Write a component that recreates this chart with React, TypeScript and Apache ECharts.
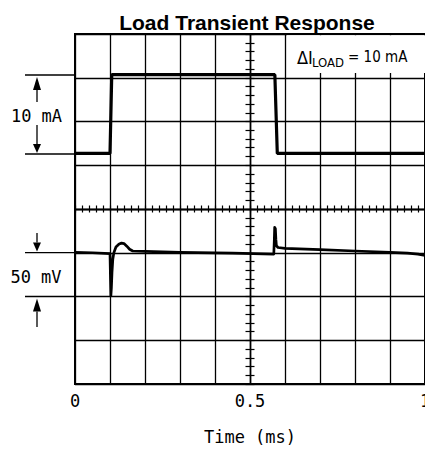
import React, { useEffect, useRef } from "react";
import * as echarts from "echarts";

const chartTitle = "Load Transient Response";
const xTickValues = [0, 0.5, 1];
const xTickLabels = ["0", "0.5", "1"];
const xAxisName = "Time (ms)";

// time in ms, level in screen divisions (0 = bottom, 8 = top)
const currentX = [0, 0.1, 0.105, 0.571, 0.578, 1];
const currentY = [5.27, 5.27, 7.07, 7.07, 5.27, 5.27];

const voltageX = [
  0, 0.05, 0.1, 0.1014, 0.1025, 0.104, 0.1057, 0.108, 0.111, 0.117, 0.126, 0.133, 0.14, 0.148,
  0.156, 0.165, 0.2, 0.3, 0.45, 0.568, 0.5695, 0.5705, 0.5725, 0.574, 0.5755, 0.58, 0.6, 0.7,
  0.8, 0.9, 0.95, 0.98, 1,
];
const voltageY = [
  3.01, 3.0, 2.98, 2.4, 2.02, 2.2, 2.55, 2.85, 3.0, 3.13, 3.2, 3.22, 3.21, 3.15, 3.08, 3.04,
  3.03, 3.01, 2.99, 2.97, 3.3, 3.58, 3.55, 3.3, 3.16, 3.12, 3.1, 3.07, 3.04, 3.01, 2.99, 2.97,
  2.94,
];

const currentLabel = "10 mA";
const voltageLabel = "50 mV";
const noteMain = "ΔI";
const noteSub = "LOAD";
const noteTail = "= 10 mA";

const MONO = "'DejaVu Sans Mono', monospace";
const NARROW = "'Liberation Sans Narrow', 'DejaVu Sans Condensed', 'Liberation Sans', sans-serif";

function arrow(x: number, tipY: number, dir: 1 | -1, headLen: number, stemEnd: number) {
  const baseY = tipY - dir * headLen;
  return [
    {
      type: "polygon",
      shape: { points: [[x, tipY], [x - 4, baseY], [x + 4, baseY]] },
      style: { fill: "#000" },
      z: 10,
    },
    {
      type: "line",
      shape: { x1: x, y1: baseY, x2: x, y2: stemEnd },
      style: { stroke: "#000", lineWidth: 1.3 },
      z: 10,
    },
  ];
}

export default function App() {
  const ref = useRef<HTMLDivElement>(null);
  useEffect(() => {
    if (!ref.current) return;
    const chart = echarts.init(ref.current, null, { renderer: "svg" });
    const gridLine = { show: true, lineStyle: { color: "#000", width: 1.3 } };
    const centerX = (pos: string) => ({
      type: "value",
      position: pos,
      offset: -175,
      min: 0,
      max: 1,
      interval: 0.1,
      axisLine: { show: true, onZero: false, lineStyle: { color: "#000", width: 1.3 } },
      axisTick: { show: true, length: 3.5, lineStyle: { color: "#000", width: 1.2 } },
      minorTick: { show: true, splitNumber: 5, length: 3.5, lineStyle: { color: "#000", width: 1.2 } },
      axisLabel: { show: false },
      splitLine: { show: false },
    });
    const centerY = (pos: string) => ({
      type: "value",
      position: pos,
      offset: -175,
      min: 0,
      max: 8,
      interval: 1,
      axisLine: { show: true, onZero: false, lineStyle: { color: "#000", width: 1.3 } },
      axisTick: { show: true, length: 4.5, lineStyle: { color: "#000", width: 1.2 } },
      minorTick: { show: true, splitNumber: 5, length: 4.5, lineStyle: { color: "#000", width: 1.2 } },
      axisLabel: { show: false },
      splitLine: { show: false },
    });
    chart.setOption({
      animation: false,
      backgroundColor: "#fff",
      grid: {
        left: 75,
        top: 34,
        width: 350,
        height: 350,
        show: true,
        borderColor: "#000",
        borderWidth: 2,
        backgroundColor: "transparent",
        containLabel: false,
        outerBoundsMode: "none",
      },
      xAxis: [
        {
          type: "value",
          position: "bottom",
          min: 0,
          max: 1,
          interval: 0.1,
          axisLine: { show: false, onZero: false },
          axisTick: { show: false },
          splitLine: gridLine,
          axisLabel: {
            showMaxLabel: true,
            showMinLabel: true,
            color: "#000",
            fontFamily: MONO,
            fontSize: 17,
            margin: 8,
            formatter: (v: number) => {
              const i = xTickValues.findIndex((t) => Math.abs(t - v) < 1e-6);
              return i >= 0 ? xTickLabels[i] : "";
            },
          },
          name: xAxisName,
          nameLocation: "middle",
          nameGap: 44,
          nameTextStyle: { color: "#000", fontFamily: MONO, fontSize: 17 },
        },
        centerX("bottom"),
        centerX("top"),
      ],
      yAxis: [
        {
          type: "value",
          min: 0,
          max: 8,
          interval: 1,
          position: "left",
          axisLine: { show: false, onZero: false },
          axisTick: { show: false },
          axisLabel: { show: false },
          splitLine: gridLine,
        },
        centerY("left"),
        centerY("right"),
      ],
      graphic: [
        {
          type: "rect",
          shape: { x: 287, y: 35.2, width: 138, height: 37.8 },
          style: { fill: "#fff" },
          z: 5,
        },
        {
          type: "text",
          x: 247,
          y: 22.7,
          style: {
            text: chartTitle,
            fill: "#000",
            font: "bold 21px 'Liberation Sans', Arial, sans-serif",
            align: "center",
            verticalAlign: "middle",
          },
          z: 10,
        },
        {
          type: "text",
          x: 297,
          y: 57,
          style: { text: noteMain, fill: "#000", font: `18px ${NARROW}`, align: "left", verticalAlign: "middle" },
          z: 10,
        },
        {
          type: "text",
          x: 312,
          y: 62,
          style: { text: noteSub, fill: "#000", font: `13px ${NARROW}`, align: "left", verticalAlign: "middle" },
          z: 10,
        },
        {
          type: "text",
          x: 348,
          y: 57,
          style: { text: noteTail, fill: "#000", font: `15px ${NARROW}`, align: "left", verticalAlign: "middle" },
          z: 10,
        },
        { type: "line", shape: { x1: 25, y1: 75, x2: 75, y2: 75 }, style: { stroke: "#000", lineWidth: 1.3 }, z: 10 },
        { type: "line", shape: { x1: 25, y1: 154, x2: 75, y2: 154 }, style: { stroke: "#000", lineWidth: 1.3 }, z: 10 },
        ...arrow(37, 77, -1, 13, 102),
        ...arrow(37, 153, 1, 9, 125),
        {
          type: "text",
          x: 36.5,
          y: 116,
          style: { text: currentLabel, fill: "#000", font: `17px ${MONO}`, align: "center", verticalAlign: "middle" },
          z: 10,
        },
        { type: "line", shape: { x1: 25, y1: 252.7, x2: 75, y2: 252.7 }, style: { stroke: "#000", lineWidth: 1.3 }, z: 10 },
        { type: "line", shape: { x1: 25, y1: 296.5, x2: 75, y2: 296.5 }, style: { stroke: "#000", lineWidth: 1.3 }, z: 10 },
        ...arrow(37, 251.5, 1, 9, 233),
        ...arrow(37, 298.5, -1, 13, 327),
        {
          type: "text",
          x: 36,
          y: 277,
          style: { text: voltageLabel, fill: "#000", font: `17px ${MONO}`, align: "center", verticalAlign: "middle" },
          z: 10,
        },
      ],
      series: [
        {
          type: "line",
          xAxisIndex: 0,
          yAxisIndex: 0,
          data: currentX.map((x, i) => [x, currentY[i]]),
          showSymbol: false,
          symbol: "none",
          lineStyle: { color: "#000", width: 3.2 },
          z: 6,
        },
        {
          type: "line",
          xAxisIndex: 0,
          yAxisIndex: 0,
          data: voltageX.map((x, i) => [x, voltageY[i]]),
          showSymbol: false,
          symbol: "none",
          lineStyle: { color: "#000", width: 2.7, join: "round" },
          z: 6,
        },
      ],
    });
    return () => chart.dispose();
  }, []);
  return <div ref={ref} style={{ position: "fixed", left: 0, top: 0, width: 425, height: 456 }} />;
}
